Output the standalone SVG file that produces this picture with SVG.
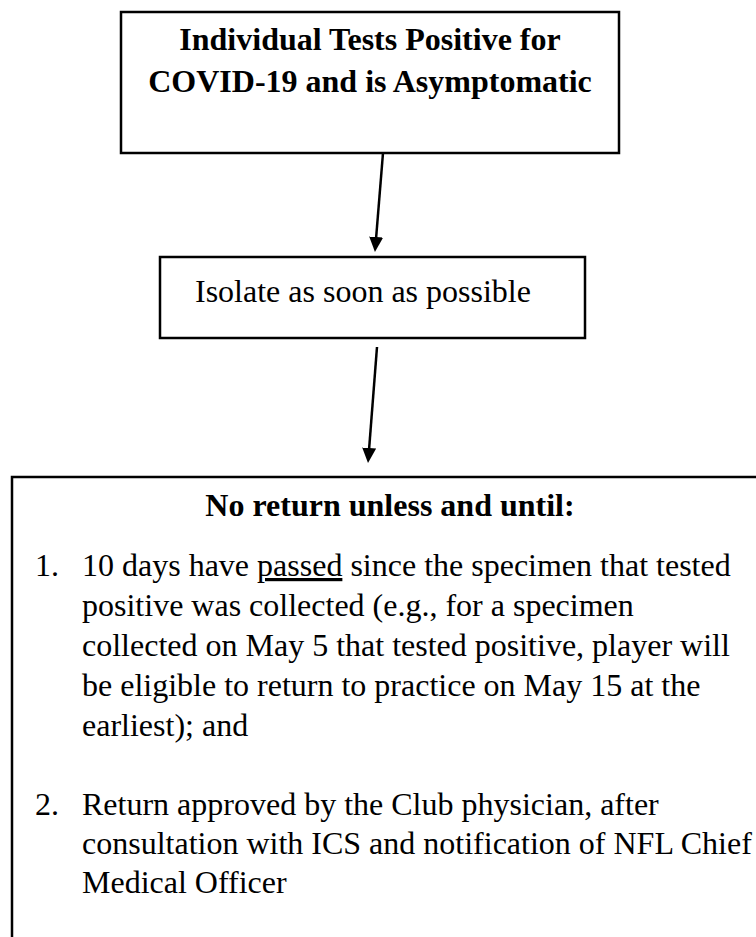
<svg xmlns="http://www.w3.org/2000/svg" width="756" height="937" viewBox="0 0 756 937">
<style>
  .box { fill: #ffffff; stroke: #000000; stroke-width: 2.5; }
  .t { font-family: "Liberation Serif", "Times New Roman", serif; font-size: 32px; fill: #000000; }
  .b { font-weight: bold; }
  .conn { stroke: #000000; stroke-width: 2.5; fill: none; marker-end: url(#arrow); }
</style>
<defs>
  <marker id="arrow" markerUnits="userSpaceOnUse" markerWidth="16" markerHeight="15" refX="1" refY="7" orient="auto">
    <path d="M0,0 L15,7 L0,14 z" fill="#000000"/>
  </marker>
</defs>
<rect width="756" height="937" fill="#ffffff"/>
<g id="node-positive">
  <rect class="box" x="121" y="12" width="498" height="141"/>
  <text class="t b" x="370" y="50" text-anchor="middle">Individual Tests Positive for</text>
  <text class="t b" x="370" y="92" text-anchor="middle">COVID-19 and is Asymptomatic</text>
</g>
<g id="node-isolate">
  <rect class="box" x="160" y="257" width="425" height="81"/>
  <text class="t" x="195" y="302">Isolate as soon as possible</text>
</g>
<g id="node-return">
  <rect class="box" x="12" y="477" width="760" height="480"/>
  <text class="t b" x="390" y="516" text-anchor="middle">No return unless and until:</text>
  <text class="t" x="35" y="576">1.</text>
  <text class="t" x="82" y="576">10 days have <tspan text-decoration="underline">passed</tspan> since the specimen that tested</text>
  <text class="t" x="82" y="616">positive was collected (e.g., for a specimen</text>
  <text class="t" x="82" y="656">collected on May 5 that tested positive, player will</text>
  <text class="t" x="82" y="696">be eligible to return to practice on May 15 at the</text>
  <text class="t" x="82" y="736">earliest); and</text>
  <text class="t" x="35" y="815">2.</text>
  <text class="t" x="82" y="815">Return approved by the Club physician, after</text>
  <text class="t" x="82" y="854">consultation with ICS and notification of NFL Chief</text>
  <text class="t" x="82" y="893">Medical Officer</text>
</g>
<g id="connectors">
  <line class="conn" x1="383" y1="153" x2="376.1" y2="238"/>
  <line class="conn" x1="377" y1="347" x2="369.1" y2="449"/>
</g>
</svg>
